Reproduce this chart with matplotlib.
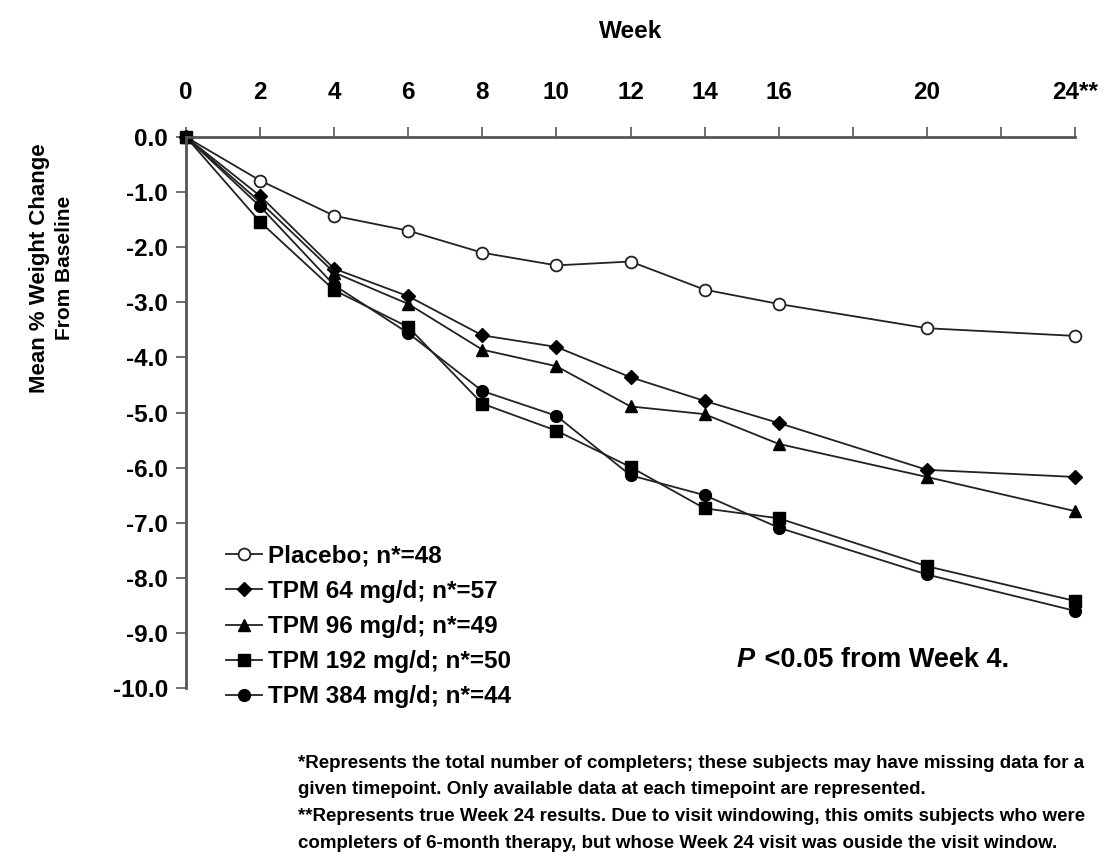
import matplotlib
matplotlib.use("Agg")
import matplotlib.pyplot as plt

weeks = [0, 2, 4, 6, 8, 10, 12, 14, 16, 20, 24]
placebo = [0, -0.79, -1.43, -1.70, -2.10, -2.33, -2.26, -2.77, -3.03, -3.47, -3.61]
tpm64 = [0, -1.07, -2.39, -2.89, -3.60, -3.81, -4.36, -4.79, -5.19, -6.04, -6.17]
tpm96 = [0, -1.18, -2.46, -3.03, -3.86, -4.16, -4.89, -5.03, -5.57, -6.17, -6.79]
tpm192 = [0, -1.54, -2.78, -3.45, -4.84, -5.33, -5.99, -6.74, -6.92, -7.79, -8.42]
tpm384 = [0, -1.26, -2.69, -3.56, -4.61, -5.06, -6.14, -6.50, -7.09, -7.94, -8.60]

labels = ["Placebo; n*=48", "TPM 64 mg/d; n*=57", "TPM 96 mg/d; n*=49",
          "TPM 192 mg/d; n*=50", "TPM 384 mg/d; n*=44"]

xticks = [0, 2, 4, 6, 8, 10, 12, 14, 16, 18, 20, 22, 24]
xticklabels = ["0", "2", "4", "6", "8", "10", "12", "14", "16", "", "20", "", "24**"]
yticks = [0, -1, -2, -3, -4, -5, -6, -7, -8, -9, -10]

notes = [
    "*Represents the total number of completers; these subjects may have missing data for a",
    "given timepoint. Only available data at each timepoint are represented.",
    "**Represents true Week 24 results. Due to visit windowing, this omits subjects who were",
    "completers of 6-month therapy, but whose Week 24 visit was ouside the visit window.",
]

plt.rcParams['font.family'] = ['Liberation Sans', 'DejaVu Sans']
plt.rcParams['font.weight'] = 'bold'

W, H = 1107, 859
fig = plt.figure(figsize=(W / 100, H / 100), dpi=100)
ax = fig.add_axes([186 / W, 1 - 688 / H, (1075 - 186) / W, (688 - 137) / H])

lc = '#222222'
series = [placebo, tpm64, tpm96, tpm192, tpm384]
styles = [
    dict(marker='o', ms=8.5, mfc='white', mec=lc, mew=1.3),
    dict(marker='D', ms=7, mfc='black', mec='black'),
    dict(marker='^', ms=9, mfc='black', mec='black'),
    dict(marker='s', ms=8.5, mfc='black', mec='black'),
    dict(marker='o', ms=8.5, mfc='black', mec='black'),
]
for vals, lab, st in zip(series, labels, styles):
    ax.plot(weeks, vals, color=lc, lw=1.3, label=lab, clip_on=False, **st)

ax.set_xlim(0, 24)
ax.set_ylim(-10, 0)
ax.xaxis.set_ticks_position('top')
ax.xaxis.set_label_position('top')
ax.set_xticks(xticks)
ax.set_xticklabels(xticklabels)
ax.set_yticks(yticks)
ax.set_yticklabels(["%.1f" % v if v == 0 else "-%.1f" % abs(v) for v in yticks])
ax.tick_params(axis='x', direction='out', length=7, width=1.2, color='#555555',
               labelsize=17.5, pad=17)
ax.tick_params(axis='y', direction='out', length=7, width=1.2, color='#555555',
               labelsize=17.5, pad=6)
for t in ax.get_xticklabels() + ax.get_yticklabels():
    t.set_fontweight('bold')

for s in ['right', 'bottom']:
    ax.spines[s].set_visible(False)
for s in ['left', 'top']:
    ax.spines[s].set_color('#555555')
    ax.spines[s].set_linewidth(2)

ax.set_xlabel("Week", fontsize=17.5, fontweight='bold', labelpad=31)

fig.text(40 / W, 1 - 268 / H, "Mean % Weight Change", rotation=90,
         ha='center', va='center', fontsize=16, fontweight='bold')
fig.text(64 / W, 1 - 268 / H, "From Baseline", rotation=90,
         ha='center', va='center', fontsize=15, fontweight='bold')

leg = ax.legend(loc='upper left', bbox_to_anchor=(30 / 889, 1 - (535 - 137) / 551),
                frameon=False, prop={'size': 17.5, 'weight': 'bold'},
                handlelength=1.5, handletextpad=0.25,
                labelspacing=0.5, borderaxespad=0)

fig.text(737 / W, 1 - 660 / H, "P", fontsize=19.5, fontweight='bold',
         fontstyle='italic', va='center', ha='left')
fig.text(757 / W, 1 - 660 / H, " <0.05 from Week 4.", fontsize=19.5,
         fontweight='bold', va='center', ha='left')

for i, line in enumerate(notes):
    fig.text(298 / W, 1 - (763 + 26.7 * i) / H, line, fontsize=13.5,
             fontweight='bold', va='center', ha='left')

fig.savefig("out.png", dpi=100)
